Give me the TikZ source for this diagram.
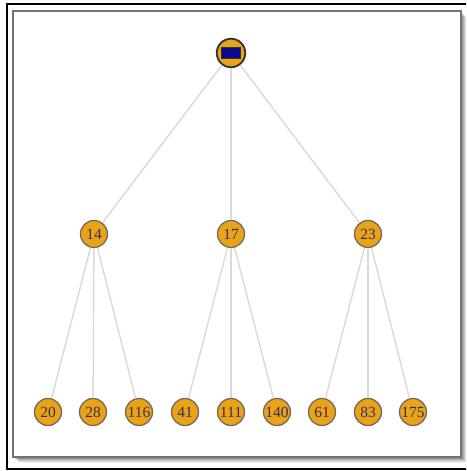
\documentclass[tikz,border=0pt]{standalone}
\usepackage{fontspec}
\setmainfont{Liberation Serif}
\usepackage{tikz}
\usetikzlibrary{positioning}
\definecolor{treeorange}{HTML}{E8A317}
\definecolor{treeborder}{HTML}{75695F}
\definecolor{treelabel}{HTML}{3D2C5C}
\definecolor{treeedge}{HTML}{D9D9D9}
\definecolor{treenavy}{HTML}{0A0A8C}

\begin{document}
\begin{tikzpicture}[x=1pt, y=-1pt,
  leaf/.style={circle, draw=treeborder, line width=1.3pt, fill=treeorange,
    minimum size=27pt, inner sep=0pt, font=\fontsize{15.5}{15.5}\selectfont, text=treelabel},
  rootnode/.style={circle, draw=black!80, line width=1.8pt, fill=treeorange,
    minimum size=28.5pt, inner sep=0pt},
  link/.style={draw=treeedge, line width=1.4pt}]
  \useasboundingbox (0,0) rectangle (466,471);
  \clip (0,0) rectangle (466,471);

  % Frame
  \draw[line width=2pt, black] (480,4) -- (7,4) -- (7,469) -- (480,469);
  \foreach \s/\o in {6/0.06, 5/0.08, 4/0.10, 3/0.12, 2/0.14}
    \fill[black, opacity=\o] (13+\s,11+\s) rectangle (461+\s,457+\s);
  \draw[draw=black!55, fill=white, line width=1.4pt] (13,11) rectangle (461,457);

  % Root
  \node[rootnode] (root) at (231,53) {};
  \node[draw=black!80, fill=treenavy, line width=0.8pt, minimum width=19pt,
    minimum height=11pt, inner sep=0pt] (rootbox) at (root.center) {};

  % Second level
  \node[leaf] (n14) at (94,234) {14};
  \node[leaf] (n17) at (231,234) {17};
  \node[leaf] (n23) at (368,234) {23};

  % Third level
  \node[leaf] (n20)  at (48,412)  {20};
  \node[leaf] (n28)  at (93,412)  {28};
  \node[leaf] (n116) at (139,412) {116};
  \node[leaf] (n41)  at (185,412) {41};
  \node[leaf] (n111) at (231,412) {111};
  \node[leaf] (n140) at (277,412) {140};
  \node[leaf] (n61)  at (322,412) {61};
  \node[leaf] (n83)  at (368,412) {83};
  \node[leaf] (n175) at (413,412) {175};

  % Edges
  \foreach \a/\b in {root/n14, root/n17, root/n23,
                     n14/n20, n14/n28, n14/n116,
                     n17/n41, n17/n111, n17/n140,
                     n23/n61, n23/n83, n23/n175}
    \path[link] (\a) -- (\b);
\end{tikzpicture}
\end{document}
